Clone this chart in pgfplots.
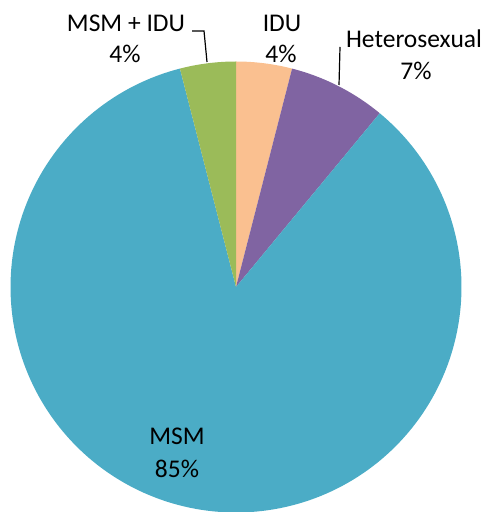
\documentclass[border=0pt]{standalone}
\usepackage{pgfplots}
\usepackage{pgfplotstable}
\usepackage{fontspec}
\setmainfont{Carlito}
\pgfplotsset{compat=1.18}
\definecolor{cIDU}{HTML}{FAC090}
\definecolor{cHet}{HTML}{8064A2}
\definecolor{cMSM}{HTML}{4BACC6}
\definecolor{cMI}{HTML}{9BBB59}
\newcommand\lf{\fontsize{12.75}{16}\selectfont}
\pgfplotstableread{
label value
IDU 4
Heterosexual 7
MSM 85
MSM+IDU 4
}\piedata
\begin{document}%
\begin{tikzpicture}
\pgfplotstablegetelem{0}{value}\of\piedata \let\vA\pgfplotsretval
\pgfplotstablegetelem{1}{value}\of\piedata \let\vB\pgfplotsretval
\pgfplotstablegetelem{2}{value}\of\piedata \let\vC\pgfplotsretval
\pgfplotstablegetelem{3}{value}\of\piedata \let\vD\pgfplotsretval
\pgfmathsetmacro\aA{90}
\pgfmathsetmacro\aB{\aA-3.6*\vA}
\pgfmathsetmacro\aC{\aB-3.6*\vB}
\pgfmathsetmacro\aD{\aC-3.6*\vC}
\pgfmathsetmacro\aE{\aD-3.6*\vD}
\useasboundingbox (0,0) rectangle (244pt,256pt);
\begin{axis}[
  at={(0,0)}, anchor=south west,
  width=244pt, height=256pt, scale only axis,
  xmin=0, xmax=488, ymin=0, ymax=512, y dir=reverse,
  hide axis, clip=false,
]
\addplot[fill=cIDU, draw=none, domain=\aB:\aA, samples=30, variable=\t]
  ({236+225.5*cos(\t)}, {287-225.5*sin(\t)}) -- (axis cs:236,287) -- cycle;
\addplot[fill=cHet, draw=none, domain=\aC:\aB, samples=40, variable=\t]
  ({236+225.5*cos(\t)}, {287-225.5*sin(\t)}) -- (axis cs:236,287) -- cycle;
\addplot[fill=cMSM, draw=none, domain=\aD:\aC, samples=200, variable=\t]
  ({236+225.5*cos(\t)}, {287-225.5*sin(\t)}) -- (axis cs:236,287) -- cycle;
\addplot[fill=cMI, draw=none, domain=\aE:\aD, samples=30, variable=\t]
  ({236+225.5*cos(\t)}, {287-225.5*sin(\t)}) -- (axis cs:236,287) -- cycle;
% labels
\node[anchor=base, inner sep=0pt] at (axis cs:126,32) {\lf MSM + IDU};
\node[anchor=base, inner sep=0pt] at (axis cs:125,63) {\lf 4\%};
\node[anchor=base, inner sep=0pt] at (axis cs:282,32) {\lf IDU};
\node[anchor=base, inner sep=0pt] at (axis cs:281,63) {\lf 4\%};
\node[anchor=base, inner sep=0pt] at (axis cs:414,48) {\lf Heterosexual};
\node[anchor=base, inner sep=0pt] at (axis cs:416,80) {\lf 7\%};
\node[anchor=base, inner sep=0pt] at (axis cs:177,444) {\lf MSM};
\node[anchor=base, inner sep=0pt] at (axis cs:177,477) {\lf 85\%};
% leader lines
\draw[black, line width=0.6pt] (axis cs:192,31) -- (axis cs:204,31) -- (axis cs:207,62);
\draw[black, line width=0.6pt] (axis cs:340,47) -- (axis cs:339,85);
\end{axis}
\end{tikzpicture}%
\end{document}
